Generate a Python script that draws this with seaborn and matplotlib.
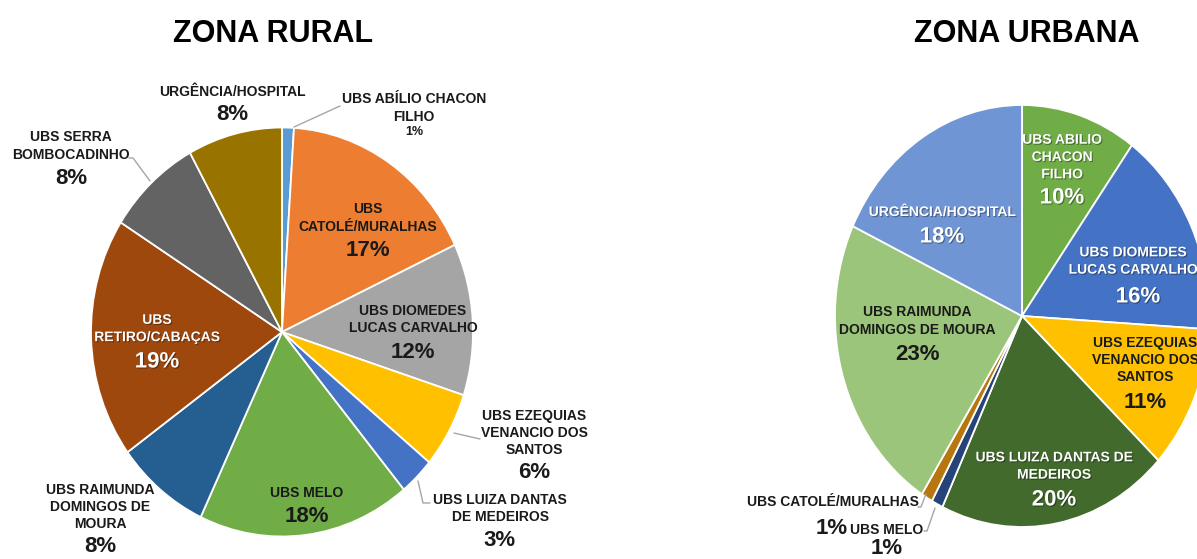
import matplotlib
matplotlib.use("Agg")
import matplotlib.pyplot as plt
import matplotlib.patheffects as pe
import seaborn as sns

sns.set_theme(style="white")
plt.rcParams["font.family"] = ["Liberation Sans", "DejaVu Sans"]

# ---------------- data ----------------
rural_labels = [
    "UBS ABÍLIO CHACON\nFILHO",
    "UBS\nCATOLÉ/MURALHAS",
    "UBS DIOMEDES\nLUCAS CARVALHO",
    "UBS EZEQUIAS\nVENANCIO DOS\nSANTOS",
    "UBS LUIZA DANTAS\nDE MEDEIROS",
    "UBS MELO",
    "UBS RAIMUNDA\nDOMINGOS DE\nMOURA",
    "UBS\nRETIRO/CABAÇAS",
    "UBS SERRA\nBOMBOCADINHO",
    "URGÊNCIA/HOSPITAL",
]
rural_values = [1, 17, 12, 6, 3, 18, 8, 19, 8, 8]
rural_colors = ["#5B9BD5", "#ED7D31", "#A5A5A5", "#FFC000", "#4472C4",
                "#70AD47", "#255E91", "#9E480E", "#636363", "#997300"]

urban_labels = [
    "UBS ABILIO\nCHACON\nFILHO",
    "UBS DIOMEDES\nLUCAS CARVALHO",
    "UBS EZEQUIAS\nVENANCIO DOS\nSANTOS",
    "UBS LUIZA DANTAS DE\nMEDEIROS",
    "UBS MELO",
    "UBS CATOLÉ/MURALHAS",
    "UBS RAIMUNDA\nDOMINGOS DE MOURA",
    "URGÊNCIA/HOSPITAL",
]
urban_values = [10, 16, 11, 20, 1, 1, 23, 18]
urban_colors = ["#70AD47", "#4472C4", "#FFC000", "#416A2C",
                "#264478", "#B8760F", "#9BC57B", "#6F95D5"]

titles = ["ZONA RURAL", "ZONA URBANA"]

# ---------------- layout (pixel positions in the 1197x559 canvas) ----------------
W, H = 1197, 559
# pie geometry: centre x, centre y, radius x, radius y
rural_geom = (282, 332, 191, 204.5)
urban_geom = (1022, 316, 187, 211)

# (name x, name y, pct x, pct y, text colour, pct size)
rural_layout = [
    (414, 108, 414, 132, "#1a1a1a", 9),
    (368, 218, 368, 251, "#1a1a1a", 16),
    (413, 319.5, 413, 352, "#1a1a1a", 16),
    (534, 433, 534, 473, "#1a1a1a", 16),
    (500, 508.5, 500, 540, "#1a1a1a", 16),
    (307, 493, 307, 517, "#1a1a1a", 16),
    (100, 507, 100, 546, "#1a1a1a", 16),
    (157, 328.5, 157, 362, "white", 16),
    (71, 146, 71, 178, "#1a1a1a", 16),
    (232, 92, 232, 115, "#1a1a1a", 16),
]
rural_leaders = [
    [(294, 127), (340, 106)],
    [(150, 181), (133, 158), (129, 158)],
    [(454, 433), (480, 439)],
    [(418, 481), (423, 503), (430, 503)],
]

urban_layout = [
    (1062, 157, 1062, 198, "white", 16),
    (1133, 261, 1138, 297, "white", 16),
    (1145, 360, 1145, 402, "#1a1a1a", 16),
    (1054, 466, 1054, 500, "white", 16),
    (887, 530, 887, 548, "#1a1a1a", 16),
    (833, 502, 832, 529, "#1a1a1a", 16),
    (917, 321, 917, 355, "#1a1a1a", 16),
    (942, 212, 942, 237, "white", 16),
]
urban_leaders = [
    [(926, 494), (921, 507), (918, 507)],
    [(935, 508), (927, 531), (924, 531)],
]

fig = plt.figure(figsize=(W / 100, H / 100), dpi=100)
fig.patch.set_facecolor("white")

shadow = [pe.withSimplePatchShadow(offset=(0.8, -0.8), shadow_rgbFace="black", alpha=0.35)]


def draw_pie(geom, values, colors, labels, layout, leaders):
    cx, cy, rx, ry = geom
    ax = fig.add_axes([(cx - rx) / W, (H - (cy + ry)) / H, 2 * rx / W, 2 * ry / H])
    ax.pie(values, colors=colors, startangle=90, counterclock=False, radius=1,
           wedgeprops=dict(edgecolor="white", linewidth=1.3))
    ax.set_aspect("auto")
    ax.set_xlim(-1, 1)
    ax.set_ylim(-1, 1)
    ax.axis("off")

    def to_data(px, py):
        return (px - cx) / rx, (cy - py) / ry

    for lab, val, (nx, ny, qx, qy, tc, psize) in zip(labels, values, layout):
        effects = shadow if tc == "white" else None
        x, y = to_data(nx, ny)
        ax.text(x, y, lab, ha="center", va="center", fontsize=10,
                fontweight="bold", color=tc, linespacing=1.3, clip_on=False,
                path_effects=effects)
        x, y = to_data(qx, qy)
        ax.text(x, y, f"{val}%", ha="center", va="center", fontsize=psize,
                fontweight="bold", color=tc, clip_on=False, path_effects=effects)
    for pts in leaders:
        xs, ys = zip(*[to_data(px, py) for px, py in pts])
        ax.plot(xs, ys, color="#A6A6A6", lw=1, clip_on=False)
    return ax


draw_pie(rural_geom, rural_values, rural_colors, rural_labels, rural_layout, rural_leaders)
draw_pie(urban_geom, urban_values, urban_colors, urban_labels, urban_layout, urban_leaders)

fig.text(273 / W, 1 - 34 / H, titles[0], ha="center", va="center",
         fontsize=22, fontweight="bold", color="black")
fig.text(1027 / W, 1 - 34 / H, titles[1], ha="center", va="center",
         fontsize=22, fontweight="bold", color="black")

fig.savefig("out.png", dpi=100, facecolor="white")
